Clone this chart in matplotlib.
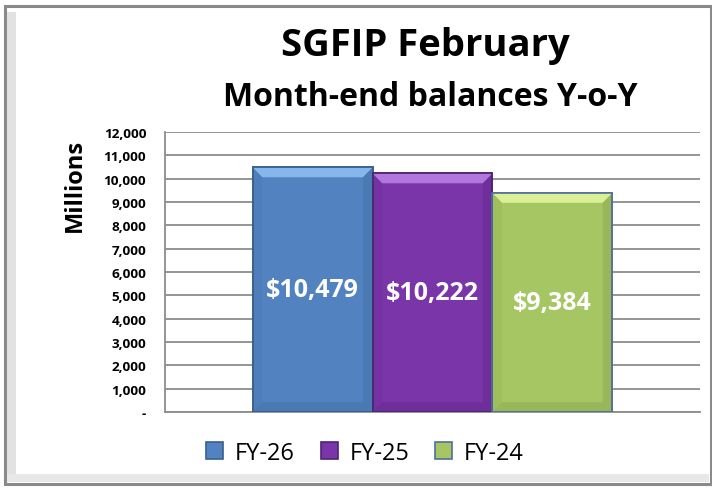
import matplotlib
matplotlib.use("Agg")
import matplotlib.pyplot as plt
from matplotlib.patches import Rectangle
from matplotlib.ticker import FuncFormatter, MultipleLocator

categories = ["FY-26", "FY-25", "FY-24"]
values = [10479, 10222, 9384]
colors = ["#5283C0", "#7A35A8", "#A5C663"]
top_bevel = ["#86B6EC", "#B277DE", "#D9F094"]
side_dark = ["#3F6898", "#5C2683", "#809C48"]
edges = ["#3A5F8C", "#4E2470", "#4F6F9F"]

FONT = "Open Sans"
W, H = 712, 489
fig = plt.figure(figsize=(W / 100, H / 100), dpi=100)
fig.patch.set_facecolor("white")

# outer frame with bevel-like shading
fig.patches.append(Rectangle((5 / W, 4 / H), 706 / W, 478 / H, transform=fig.transFigure,
                             facecolor="white", edgecolor="#8a8a8a", linewidth=2.2, zorder=-3))
fig.patches.append(Rectangle((7 / W, 6 / H), 9 / W, 470 / H, transform=fig.transFigure,
                             facecolor="#e2e2e2", edgecolor="none", zorder=-2))
fig.patches.append(Rectangle((7 / W, 6 / H), 702 / W, 8 / H, transform=fig.transFigure,
                             facecolor="#e8e8e8", edgecolor="none", zorder=-2))

ax = fig.add_axes([165 / W, (H - 413) / H, 535 / W, 280 / H])
ax.set_facecolor("none")
ax.set_xlim(-0.5, 0.5)
ax.set_ylim(0, 12000)

bw = 0.224
offsets = [-bw, 0, bw]
dx = 0.018   # bevel depth in x (axes data units)
dy = 420     # bevel depth in y
for off, v, c, tb, sd, e, lab in zip(offsets, values, colors, top_bevel, side_dark, edges, categories):
    bars = ax.bar(off, v, width=bw, color=c, edgecolor=e, linewidth=1.2, zorder=3, label=lab)
    r = bars[0]
    x0, x1, y1 = r.get_x(), r.get_x() + r.get_width(), r.get_height()
    # bevel shading derived from the bar's own geometry
    ax.fill([x0, x1, x1 - dx, x0 + dx], [y1, y1, y1 - dy, y1 - dy], color=tb, zorder=3.5, lw=0)
    ax.fill([x1, x1, x1 - dx, x1 - dx], [y1, 0, dy, y1 - dy], color=sd, zorder=3.5, lw=0, alpha=0.35)
    ax.fill([x0, x0, x0 + dx, x0 + dx], [y1, 0, dy, y1 - dy], color=sd, zorder=3.5, lw=0, alpha=0.15)
    ax.fill([x0, x1, x1 - dx, x0 + dx], [0, 0, dy, dy], color=sd, zorder=3.5, lw=0, alpha=0.35)
    ax.add_patch(Rectangle((x0, 0), x1 - x0, y1, facecolor="none", edgecolor=e, lw=1.2, zorder=3.8))
    ax.text(off, v / 2, f"${v:,}", ha="center", va="center", color="white",
            fontsize=18, fontweight="bold", family=FONT, zorder=5)

ax.yaxis.set_major_locator(MultipleLocator(1000))
ax.yaxis.set_major_formatter(FuncFormatter(lambda x, p: "-" if x == 0 else f"{int(x):,}"))
ax.set_xticks([])
ax.grid(axis="y", color="#8c8c8c", linewidth=1.3, zorder=0)
ax.set_axisbelow(True)
for s in ["top", "right"]:
    ax.spines[s].set_visible(False)
ax.spines["left"].set_color("#8c8c8c")
ax.spines["left"].set_linewidth(1.3)
ax.spines["bottom"].set_color("#8c8c8c")
ax.spines["bottom"].set_linewidth(1.3)
ax.tick_params(axis="y", length=0, pad=13.5, labelsize=9.7)
for t in ax.get_yticklabels():
    t.set_fontweight("bold")
    t.set_family(FONT)

fig.text(425 / W, 1 - 46 / H, "SGFIP February", ha="center", va="center",
         fontsize=27.5, fontweight="bold", family=FONT)
fig.text(430 / W, 1 - 97 / H, "Month-end balances Y-o-Y", ha="center", va="center",
         fontsize=23, fontweight="bold", family=FONT)
fig.text(75 / W, 1 - 185 / H, "Millions", rotation=90, ha="center", va="center",
         fontsize=17, fontweight="bold", family=FONT)

handles, labels = ax.get_legend_handles_labels()
leg = fig.legend(handles, labels, loc="center", bbox_to_anchor=(365 / W, 1 - 454 / H), ncol=3,
                 frameon=False, prop={"family": FONT, "size": 17},
                 handlelength=0.72, handleheight=0.72, columnspacing=1.1, handletextpad=0.5)

fig.savefig("out.png", dpi=100, facecolor="white")
